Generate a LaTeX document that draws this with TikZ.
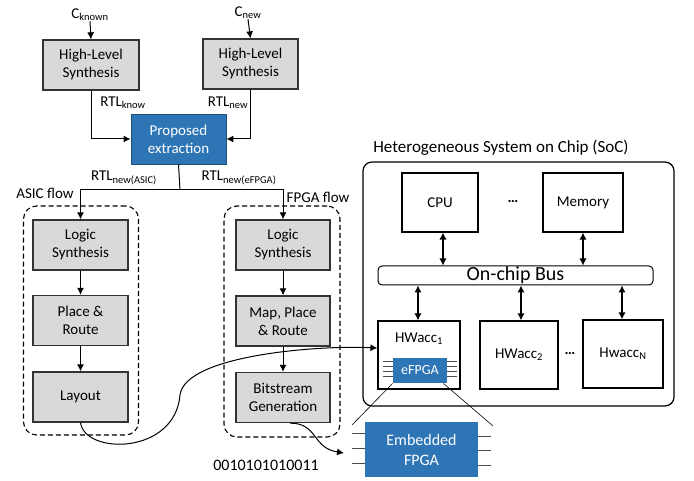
\documentclass[tikz,border=0pt]{standalone}
\usepackage{fontspec}
\setmainfont{Carlito}
\usetikzlibrary{arrows.meta,calc}
\definecolor{boxgray}{HTML}{D9D9D9}
\definecolor{boxblue}{HTML}{2E75B6}
\definecolor{blueedge}{HTML}{1F4E79}
\definecolor{edgegray}{HTML}{333333}
\begin{document}
\begin{tikzpicture}[x=1pt,y=-1pt,
  font=\fontsize{15}{18}\selectfont,
  graybox/.style={draw=edgegray,line width=1.3pt,fill=boxgray,align=center,inner sep=0pt},
  bluebox/.style={draw=blueedge,line width=0.9pt,fill=boxblue,text=white,align=center,inner sep=0pt},
  whitebox/.style={draw=black,line width=1.2pt,fill=white,align=center,inner sep=0pt},
  flowarrow/.style={line width=1pt,-{Latex[length=7pt,width=7pt]}},
  flowline/.style={line width=1pt},
  busarrow/.style={line width=2pt,{Latex[length=7pt,width=7.5pt]}-{Latex[length=7pt,width=7.5pt]}},
  groupbox/.style={draw,line width=1.1pt,dash pattern=on 5pt off 3pt,rounded corners=13pt},
  pin/.style={line width=0.8pt,draw=black!70},
  lbl/.style={inner sep=0pt}]
\useasboundingbox (0,0) rectangle (694,481);

% ---------- synthesis front end ----------
\node[lbl] (cknown) at (90,15) {C\textsubscript{known}};
\node[lbl] (cnew) at (248,13) {C\textsubscript{new}};
\node[graybox,minimum width=96pt,minimum height=50pt] (hls1) at (91,65) {High-Level\\Synthesis};
\node[graybox,minimum width=95pt,minimum height=50pt] (hls2) at (250.5,64) {High-Level\\Synthesis};
\node[bluebox,minimum width=95pt,minimum height=50pt] (prop) at (178.5,139) {Proposed\\extraction};
\node[lbl] (rtlk) at (123,103) {RTL\textsubscript{know}};
\node[lbl] (rtln) at (228,103) {RTL\textsubscript{new}};

\draw[flowarrow] (cknown.south) -- (hls1.north);
\draw[flowarrow] (cnew.south) -- (hls2.north);
\draw[flowarrow] (hls1.south) |- (prop.west);
\draw[flowarrow] (hls2.south) |- (prop.east);

% ---------- split into the two flows ----------
\coordinate (split) at (180,190);
\node[lbl] (rtla) at (124,178) {RTL\textsubscript{new(ASIC)}};
\node[lbl] (rtle) at (239,178) {RTL\textsubscript{new(eFPGA)}};
\node[lbl] (asicflow) at (45,193) {ASIC flow};
\node[lbl] (fpgaflow) at (318,197) {FPGA flow};

\node[groupbox,minimum width=115pt,minimum height=229pt] (asicgrp) at (81,320.5) {};
\node[groupbox,minimum width=116pt,minimum height=231pt] (fpgagrp) at (282,321.5) {};

\node[graybox,minimum width=95pt,minimum height=50pt] (als) at (80.5,245) {Logic\\Synthesis};
\node[graybox,minimum width=95pt,minimum height=50pt] (apr) at (80.5,320.5) {Place \&\\Route};
\node[graybox,minimum width=95pt,minimum height=50pt] (lay) at (80.5,397) {Layout};

\node[graybox,minimum width=94pt,minimum height=50pt] (fls) at (283,245) {Logic\\Synthesis};
\node[graybox,minimum width=94pt,minimum height=50pt] (fpr) at (283,321) {Map, Place\\\& Route};
\node[graybox,minimum width=94pt,minimum height=50pt] (bit) at (283,397.5) {Bitstream\\Generation};

\draw[flowline] (prop.south) -- (split);
\draw[flowarrow] (split) -| (als.north);
\draw[flowarrow] (split) -| (fls.north);
\draw[flowarrow] (als) -- (apr);
\draw[flowarrow] (apr) -- (lay);
\draw[flowarrow] (fls) -- (fpr);
\draw[flowarrow] (fpr) -- (bit);

\node[lbl,font=\fontsize{16}{18}\selectfont] (bits) at (266,465) {0010101010011};

% ---------- heterogeneous SoC ----------
\node[lbl,font=\fontsize{17}{19}\selectfont] (soctitle) at (501,148) {Heterogeneous System on Chip (SoC)};
\node[draw,line width=1.2pt,rounded corners=9pt,minimum width=311pt,minimum height=244pt] (soc) at (518.5,284) {};

\node[whitebox,minimum width=76pt,minimum height=59pt] (cpu) at (440,202.5) {CPU};
\node[whitebox,minimum width=80pt,minimum height=59pt] (mem) at (583,202.5) {Memory};
\node[lbl] (dots1) at (513,201) {\textbf{\ldots}};
\node[draw,line width=1pt,rounded corners=4pt,minimum width=275pt,minimum height=19pt,inner sep=0pt,
      font=\fontsize{20}{22}\selectfont] (bus) at (515.5,275.5) {On-chip Bus};

\node[whitebox,minimum width=82pt,minimum height=68pt] (hw1) at (419,355) {};
\node[lbl] (hw1lbl) at (419,339) {HWacc\textsubscript{1}};
\node[whitebox,minimum width=78pt,minimum height=68pt] (hw2) at (519,355) {HWacc\textsubscript{2}};
\node[whitebox,minimum width=80pt,minimum height=68pt] (hwn) at (623,354) {Hwacc\textsubscript{N}};
\node[lbl] (dots2) at (570,353) {\textbf{\ldots}};

\draw[busarrow] (cpu.south -| 443,0) -- (bus.north -| 443,0);
\draw[busarrow] (mem.south) -- (bus.north -| mem.south);
\draw[busarrow] (bus.south -| 418,0) -- (hw1.north -| 418,0);
\draw[busarrow] (bus.south -| 521,0) -- (hw2.north -| 521,0);
\draw[busarrow] (bus.south -| 622,0) -- (hwn.north -| 622,0);

% small eFPGA block inside HWacc1, with its pins
\foreach \yy in {361,366,371,376} {
  \draw[pin] (383,\yy) -- (393,\yy);
  \draw[pin] (447,\yy) -- (457,\yy);
}
\node[bluebox,draw=none,minimum width=54pt,minimum height=25pt,font=\fontsize{14}{16}\selectfont] (efpga) at (420,370.5) {eFPGA};

% enlarged embedded FPGA
\foreach \yy in {433,448,463} \draw[pin] (352,\yy) -- (365,\yy);
\foreach \yy in {436,450,465} \draw[pin] (478,\yy) -- (491,\yy);
\node[bluebox,draw=none,minimum width=113pt,minimum height=55pt,font=\fontsize{16}{20}\selectfont] (embf) at (421.5,449.5) {Embedded\\FPGA};
\coordinate (zoomL) at (352,425);
\coordinate (zoomR) at (493,426);
\draw[line width=0.6pt] (efpga.south west) -- (zoomL);
\draw[line width=0.6pt] ($(efpga.south east)+(-4,0)$) -- (zoomR);

% layout goes to the SoC, bitstream goes to the eFPGA
\coordinate (bend) at (180,395);
\coordinate (hwin) at ($(hw1.north west)!0.4!(hw1.south west)$);
\draw[flowarrow] (lay.south) .. controls (85,455) and (175,455) .. (bend)
  .. controls (185,355) and (320,345) .. (hwin);
\coordinate (bitout) at ($(bit.south)+(7,0)$);
\coordinate (bsend) at (344,453);
\draw[flowarrow] (bitout) .. controls (318,423) and (312,448) .. (bsend);
\end{tikzpicture}
\end{document}
